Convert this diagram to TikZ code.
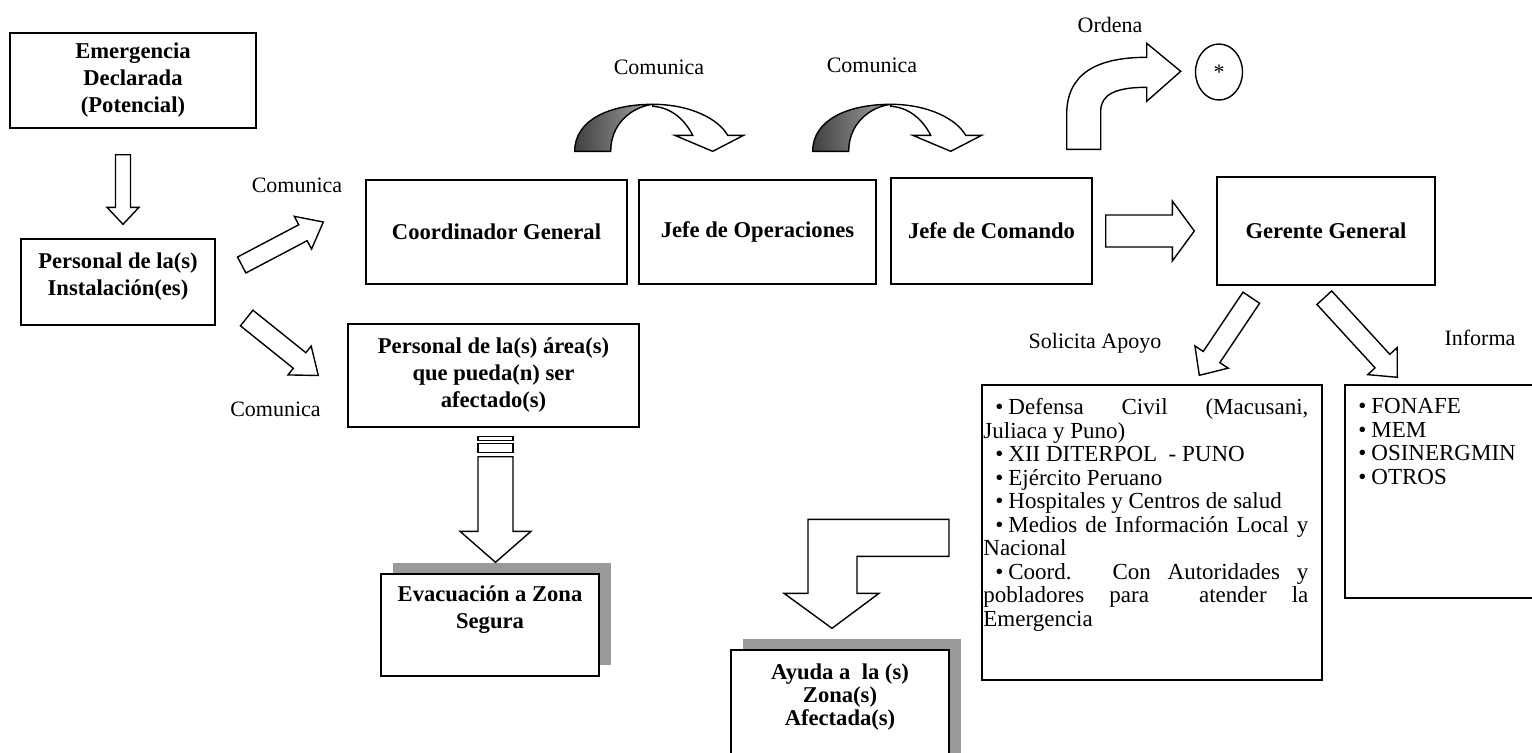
\documentclass[tikz,border=0pt]{standalone}
\usepackage{fontspec}
\setmainfont{Liberation Serif}
\usetikzlibrary{calc,shapes.geometric,shadows}

\newcommand{\bxfont}{\fontsize{11.3}{13.5}\selectfont\bfseries}
\newcommand{\lbfont}{\fontsize{11}{13}\selectfont}
\newcommand{\lsfont}{\fontsize{11.5}{11.75}\selectfont}
\newcommand{\lsitem}[1][6pt]{\par\hspace*{#1}\makebox[6.5pt][l]{\textbullet}}

% block arrow: [style](tail)(tip)(shaft half width:head half width:head length)
\def\blockarrow[#1](#2)(#3)(#4:#5:#6){%
  \coordinate (ba-h) at ($(#3)!#6!(#2)$);
  \draw[blockline,#1] ($(#2)!#4!90:(#3)$) -- ($(ba-h)!#4!90:(#3)$) -- ($(ba-h)!#5!90:(#3)$) -- (#3)
    -- ($(ba-h)!#5!-90:(#3)$) -- ($(ba-h)!#4!-90:(#3)$) -- ($(#2)!#4!-90:(#3)$) -- cycle;}

% curved arrow over two boxes, origin at the left foot
\def\comarrow(#1){%
  \begin{scope}[shift={(#1)}]
    \shade[left color=black!75, right color=black!35, draw, line width=0.7pt] (0,0) .. controls (0,-32) and (36,-47) .. (78,-47) .. controls (56,-44) and (36,-27) .. (36,0) -- cycle;
    \draw[blockline] (78,-47) .. controls (116,-47) and (144,-32) .. (153,-16) -- (169,-16) -- (138,0) -- (100,-16) -- (118,-16) .. controls (110,-32) and (96,-44) .. (78,-45) -- cycle;
  \end{scope}}

\begin{document}
\begin{tikzpicture}[x=0.5pt, y=-0.5pt,
  flowbox/.style={draw, line width=0.7pt, fill=white, inner sep=0pt, font=\bxfont, align=center},
  flowtext/.style={inner sep=0pt, font=\bxfont, align=center},
  lbl/.style={inner sep=0pt, font=\lbfont},
  blockline/.style={draw, line width=0.7pt, fill=white, line join=miter},
  shadowed/.style={drop shadow={shadow xshift=6pt, shadow yshift=5.5pt, fill=black!40, opacity=1}}]

  \useasboundingbox (0,0) rectangle (1532,752);

  %%%%% BOXES %%%%%
  \node[flowbox, minimum width=123pt, minimum height=47.5pt] (emerg) at (133,80.5) {Emergencia\\Declarada\\(Potencial)};
  \node[flowbox, minimum width=97pt, minimum height=43pt] (inst) at (118,282) {};
  \node[flowtext] (insttext) at (118,276.5) {Personal de la(s)\\Instalación(es)};

  \node[flowbox, minimum width=130.5pt, minimum height=52pt] (coord) at (496.5,232) {Coordinador General};
  \node[flowbox, minimum width=118.5pt, minimum height=52pt] (jefeop) at (757.5,232) {Jefe de Operaciones};
  \node[flowbox, minimum width=100.5pt, minimum height=53pt] (jefecom) at (991.5,231) {Jefe de Comando};
  \node[flowbox, minimum width=109pt, minimum height=54pt] (gerente) at (1326,231) {Gerente General};

  \node[flowbox, minimum width=145.5pt, minimum height=51.5pt] (area) at (493.5,375.5) {Personal de la(s) área(s)\\que pueda(n) ser\\afectado(s)};

  \node[flowbox, shadowed, minimum width=109pt, minimum height=51pt] (evac) at (490,625) {};
  \node[flowtext] (evactext) at (490,610) {Evacuación a Zona\\Segura};

  \node[flowbox, shadowed, minimum width=109pt, minimum height=75pt] (ayuda) at (840,725) {};
  \node[flowtext, font={\fontsize{11.3}{11.3}\selectfont\bfseries}] (ayudatext) at (840,697) {Ayuda a\ \ la (s)\\Zona(s)\\Afectada(s)};

  \node[ellipse, draw, line width=0.7pt, minimum width=23.5pt, minimum height=28pt, inner sep=0pt, font=\lbfont] (ast) at (1219,72) {*};

  \node[flowbox, minimum width=170pt, minimum height=147.5pt] (apoyo) at (1152,532.5) {};
  \node[anchor=north west, inner sep=0pt, font=\lsfont] (apoyolist) at (983,398) {%
    \begin{minipage}[t]{162.5pt}\setlength{\parindent}{0pt}\setlength{\parskip}{0pt}%
      \lsitem Defensa Civil (Macusani,\linebreak Juliaca y Puno)
      \lsitem XII DITERPOL\ \ - PUNO
      \lsitem Ejército Peruano
      \lsitem Hospitales y Centros de salud
      \lsitem Medios de Información Local y\linebreak Nacional
      \lsitem Coord. Con Autoridades y\linebreak pobladores para\ \ atender la\linebreak Emergencia\par
    \end{minipage}};

  \node[flowbox, minimum width=107.5pt, minimum height=106.5pt] (info) at (1452.5,491.5) {};
  \node[anchor=north west, inner sep=0pt, font=\lsfont] (infolist) at (1346,398) {%
    \begin{minipage}[t]{90pt}\raggedright\setlength{\parindent}{0pt}%
      \lsitem FONAFE
      \lsitem MEM
      \lsitem OSINERGMIN
      \lsitem OTROS\par
    \end{minipage}};

  %%%%% LABELS %%%%%
  \node[lbl] (comlbla) at (297,185) {Comunica};
  \node[lbl] (comlblb) at (275.5,409) {Comunica};
  \node[lbl] (comlblc) at (659,67) {Comunica};
  \node[lbl] (comlbld) at (872,65) {Comunica};
  \node[lbl] (ordlbl) at (1110,25) {Ordena};
  \node[lbl] (sollbl) at (1095,343) {Solicita Apoyo};
  \node[lbl] (inflbl) at (1480,338) {Informa};

  %%%%% ARROWS %%%%%
  \coordinate (a1s) at ($(emerg.south)+(-10,26)$);
  \coordinate (a1t) at ($(inst.north)+(5,-14)$);
  \blockarrow[](a1s)(a1t)(3.75pt:8pt:8.5pt)

  \coordinate (a2s) at ($(inst.east)+(26,-17)$);
  \coordinate (a2t) at ($(coord.west)+(-42,-10)$);
  \blockarrow[](a2s)(a2t)(4.5pt:9.25pt:11.5pt)

  \coordinate (a3s) at ($(inst.east)+(31,36)$);
  \coordinate (a3t) at ($(area.west)+(-29,0)$);
  \blockarrow[](a3s)(a3t)(5pt:9.25pt:12pt)

  \coordinate (a4s) at ($(jefecom.east)+(13,0)$);
  \coordinate (a4t) at ($(gerente.west)+(-22,0)$);
  \blockarrow[](a4s)(a4t)(8pt:15pt:11pt)

  \coordinate (a5s) at ($(area.south)+(2,29)$);
  \coordinate (a5t) at ($(evac.north)+(5.5,-11)$);
  \draw[blockline] ($(a5s)+(-17.5,-20)$) rectangle ($(a5s)+(17.5,-16.5)$);
  \draw[blockline] ($(a5s)+(-17.5,-13)$) rectangle ($(a5s)+(17.5,-4)$);
  \blockarrow[](a5s)(a5t)(8.75pt:17.75pt:15.5pt)

  \coordinate (a6s) at ($(gerente.south west)+(35,12)$);
  \coordinate (a6t) at ($(apoyo.north west)+(218,-9)$);
  \blockarrow[](a6s)(a6t)(5pt:10pt:11pt)

  \coordinate (a7s) at ($(gerente.south west)+(108,12)$);
  \coordinate (a7t) at ($(info.north west)+(53,-7)$);
  \blockarrow[](a7s)(a7t)(5pt:10pt:11pt)

  % curved arrows over the boxes
  \coordinate (c1) at ($(coord.north east)+(-53,-28)$);
  \comarrow(c1)
  \coordinate (c2) at ($(jefeop.north east)+(-64,-28)$);
  \comarrow(c2)

  % bent arrow up to the ellipse
  \coordinate (ordbase) at ($(jefecom.north east)+(-26,-28)$);
  \begin{scope}[shift={(ordbase)}]
    \draw[blockline] (0,0) -- (0,-35) .. controls (0,-75) and (29,-92) .. (80,-92) -- (80,-106) -- (114,-78) -- (80,-48) -- (80,-62) .. controls (49,-62) and (34,-55) .. (34,-38) -- (34,0) -- cycle;
  \end{scope}

  % bent arrow down to the aid box
  \coordinate (bendtip) at ($(ayuda.north)+(-8,-21)$);
  \begin{scope}[shift={(bendtip)}]
    \draw[blockline] (117,-109) -- (-24,-109) -- (-24,-35) -- (-48,-35) -- (0,0) -- (47,-35) -- (25,-35) -- (25,-72) -- (117,-72) -- cycle;
  \end{scope}

\end{tikzpicture}
\end{document}
